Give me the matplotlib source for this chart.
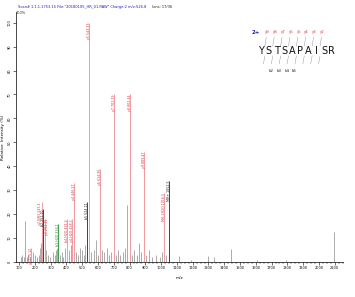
import numpy as np
import matplotlib
matplotlib.use("Agg")
import matplotlib.pyplot as plt
from matplotlib.lines import Line2D

# labelled fragment peaks: m/z, relative intensity, label, ion type
frag_mz = [175.1, 246.1, 251.1, 262.2, 348.2, 405.2, 437.2, 446.3, 532.3,
           543.3, 614.4, 701.4, 802.4, 889.5, 1016.5, 1052.5]
frag_int = [6, 25, 22, 18, 16, 18, 18, 33, 25,
            100, 39, 70, 70, 46, 29, 34]
frag_lab = ["y1 175.12", "y2-NH3 245.1", "b2 251.10", "y2 262.15", "b3-H2O 334.1",
            "b4-H2O 421.2", "y4-H2O 428.3", "y4 446.27", "b5 524.21",
            "y5 543.33", "y6 614.36", "y7 701.39", "y8 802.44", "y9 889.47",
            "MH-2H2O 1016.5", "MH+ 1052.5"]
frag_kind = ["y", "y", "b", "y", "g", "y", "y", "y", "b",
             "y", "y", "y", "y", "y", "y", "b"]

# unlabelled peaks
noise_mz = [112, 121, 129, 138, 147, 155, 170, 186, 199, 213, 226, 233, 240,
            272, 285, 296, 312, 325, 331, 341, 360, 372, 381, 390, 418, 426,
            458, 470, 485, 497, 509, 520, 556, 572, 588, 601, 628, 641, 655,
            668, 684, 712, 725, 740, 757, 772, 786, 815, 830, 846, 860, 874,
            902, 921, 940, 968, 990, 1005, 1034, 1116, 1188, 1300, 1332, 1446,
            1610, 1790, 2095]
noise_int = [2, 3, 2, 17, 2, 3, 2, 4, 3, 2, 3, 6, 8,
             5, 3, 2, 4, 3, 5, 6, 3, 4, 2, 6, 5, 7,
             4, 3, 6, 5, 3, 7, 4, 5, 9, 3, 5, 4, 6,
             3, 4, 3, 5, 3, 4, 6, 24, 3, 5, 3, 8, 4,
             3, 5, 2, 3, 2, 4, 3, 2.5, 1, 2.5, 2, 5.5,
             1, 1, 12.6]

y_ions = ["y9", "y8", "y7", "y6", "y5", "y4", "y3", "y2"]
b_ions = ["b2", "b3", "b4", "b5"]
sequence = list("YSTSAPAISR")

xticks = list(range(100, 2101, 100))
yticks = list(range(0, 101, 10))

colors = {"y": "#e0303a", "b": "#222222", "g": "#1e8a2e"}

fig = plt.figure(figsize=(3.55, 2.97), dpi=100)
ax = fig.add_axes([0.045, 0.118, 0.92, 0.842])

ax.vlines(noise_mz, 0, noise_int, color="#8a8a8a", lw=0.5)
for mz, h, lab, k in zip(frag_mz, frag_int, frag_lab, frag_kind):
    c = colors[k]
    lc = "#f08a90" if k == "y" else c
    ax.vlines(mz, 0, h, color=lc, lw=0.6)
    # nudge crowded low-mass labels sideways
    off = {246.1: -12, 251.1: 0, 262.2: 12}.get(mz, 0)
    ax.text(mz + off, h, lab, rotation=90, fontsize=2.3, color=c,
            ha="center", va="top", clip_on=False)

ax.set_xlim(80, 2150)
ax.set_ylim(0, 104.5)
ax.set_xticks(xticks)
ax.set_xticks(np.arange(100, 2151, 25), minor=True)
ax.set_xticklabels([str(v) for v in xticks], fontsize=2.5)
ax.set_yticks(yticks)
ax.set_yticklabels([str(v) for v in yticks], fontsize=2.5, rotation=90, va="center")
ax.tick_params(axis="both", length=2, width=0.4, pad=1)
ax.tick_params(axis="x", which="minor", length=1.2, width=0.3)
for s in ["top", "right"]:
    ax.spines[s].set_visible(False)
for s in ["left", "bottom"]:
    ax.spines[s].set_linewidth(0.5)
ax.set_xlabel("m/z", fontsize=3, labelpad=4)
ax.set_ylabel("Relative  Intensity (%)", fontsize=3, labelpad=2)

fig.text(0.05, 0.975, 'Scan# 1.1.1.1753.15 File:"20180105_HR_01.RAW" Charge:2 m/z:526.8',
         fontsize=2.6, color="#2020c0", va="center")
fig.text(0.428, 0.975, "Ions: 17/36", fontsize=2.6, color="#222222", va="center")
fig.text(0.045, 0.955, "100%", fontsize=2.5, color="#222222", va="center")

# peptide sequence diagram
x0, dx = 0.735, 0.0222
fig.text(0.722, 0.892, "2+", fontsize=4, color="#2020c0", ha="center", va="center",
         fontweight="bold")
for i, lab in enumerate(y_ions):
    fig.text(x0 + 0.018 + i * dx, 0.892, lab, fontsize=2.8, color="#e0303a",
             ha="center", va="center")
for i, aa in enumerate(sequence):
    fig.text(x0 + i * dx, 0.828, aa, fontsize=7, color="#111111",
             ha="center", va="center")
for i, lab in enumerate(b_ions):
    fig.text(x0 + 0.028 + i * dx, 0.762, lab, fontsize=2.8, color="#222222",
             ha="center", va="center")
for i in range(len(y_ions)):
    xs = x0 + (i + 0.5) * dx
    fig.add_artist(Line2D([xs + 0.004, xs], [0.875, 0.845], lw=0.3, color="#888888"))
    fig.add_artist(Line2D([xs, xs - 0.004], [0.812, 0.785], lw=0.3, color="#888888"))

fig.savefig("out.png", dpi=100)
